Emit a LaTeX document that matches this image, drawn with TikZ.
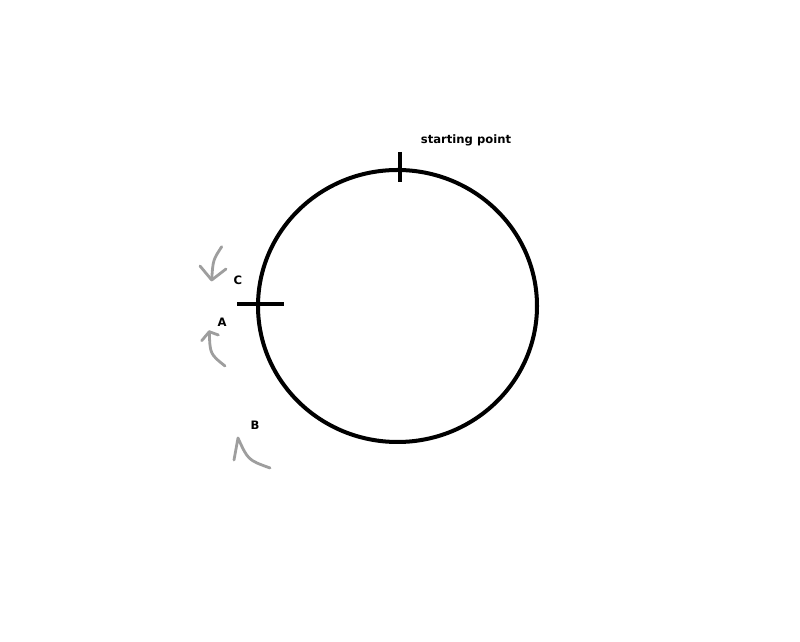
\documentclass[tikz,border=0pt]{standalone}
\usepackage{fontspec}
\setmainfont{DejaVu Sans}
\usepackage{tikz}
\definecolor{pen}{RGB}{158,158,158}
\tikzstyle{lbl}=[font=\fontsize{16.5}{20}\selectfont\bfseries,inner sep=0]
\tikzstyle{ink}=[line width=5.7pt,black]
\tikzstyle{scrib}=[line width=4pt,pen,line cap=round,line join=round]

\begin{document}
\begin{tikzpicture}

                        \useasboundingbox (0,0) rectangle (40,32.1);

                        \coordinate (o) at (19.875,16.8);
                        \coordinate (top) at (20,24.5);
                        \coordinate (topb) at (20,23.0);
                        \coordinate (lft) at (11.85,16.9);
                        \coordinate (lftb) at (14.2,16.9);

                        \node[lbl] (s) at (23.3,25.1) {starting point};
                        \node[lbl] (c) at (11.9,18.1) {C};
                        \node[lbl] (a) at (11.1,16.0) {A};
                        \node[lbl] (b) at (12.75,10.85) {B};

                        \draw[ink] (o) ellipse [x radius=6.975,y radius=6.8];
                        \draw[ink]
                        (top) -- (topb)
                        (lft) -- (lftb)
                        ;

                        % C
                        \draw[scrib] (11.085,19.765) .. controls (10.65,19.1) .. (10.585,18.1);
                        \draw[scrib] (10.0,18.8) -- (10.585,18.1) -- (11.3,18.65);
                        % A
                        \draw[scrib] (10.085,15.065) -- (10.465,15.515) -- (10.915,15.35);
                        \draw[scrib] (10.465,15.515) .. controls (10.5,14.4) .. (11.25,13.8);
                        % B
                        \draw[scrib] (11.7,9.1) -- (11.9,10.2) .. controls (12.4,9.1) .. (13.5,8.7);

    \end{tikzpicture}
\end{document}
